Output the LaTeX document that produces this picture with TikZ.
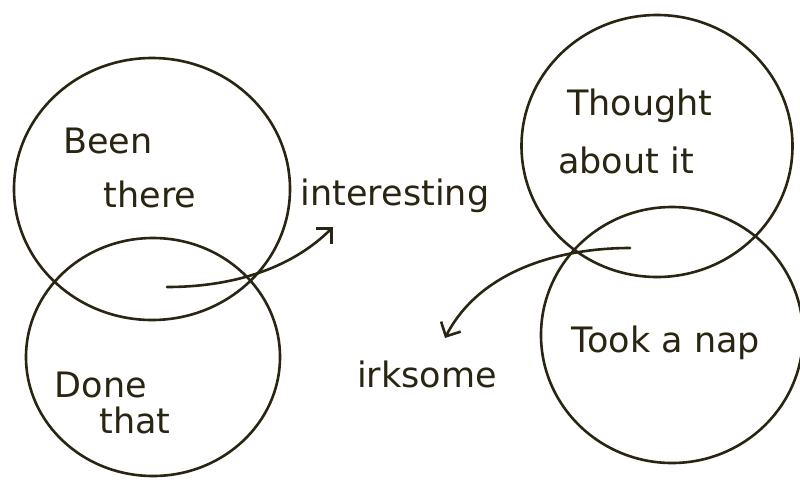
\documentclass[tikz,border=0pt]{standalone}
\usepackage{fontspec}
\setmainfont{DejaVu Sans}
\usetikzlibrary{shapes.geometric,arrows.meta}
\definecolor{ink}{RGB}{42,37,18}
\begin{document}
\begin{tikzpicture}[x=1pt,y=-1pt,
  ring/.style={draw=ink,line width=2.6pt,ellipse,inner sep=0pt},
  lbl/.style={text=ink,anchor=base,inner sep=0pt,font=\fontsize{35}{40}\selectfont},
  conn/.style={draw=ink,line width=2.6pt,line cap=round,-{Straight Barb[length=11pt,width=22pt,line width=2.6pt]}}]
\fill[white] (0,0) rectangle (800,483);
\useasboundingbox (0,0) rectangle (800,483);
% circles
\node[ring,minimum width=276pt,minimum height=262pt] (been) at (152,189) {};
\node[ring,minimum width=254pt,minimum height=238pt] (done) at (153,357) {};
\node[ring,minimum width=271pt,minimum height=262pt] (thought) at (657,146) {};
\node[ring,minimum width=262pt,minimum height=256pt] (nap) at (672,335) {};
% labels
\node[lbl] (t1) at (108,153) {Been};
\node[lbl] (t2) at (150,207) {there};
\node[lbl] (t3) at (101,397) {Done};
\node[lbl] (t4) at (135,433) {that};
\node[lbl] (t5) at (640,115) {Thought};
\node[lbl] (t6) at (626,173) {about it};
\node[lbl] (t7) at (666,352) {Took a nap};
\node[lbl] (int) at (395,205) {interesting};
\node[lbl] (irk) at (427,387) {irksome};
% arrows
\coordinate (a1) at (167,287);
\coordinate (a1e) at (333,227);
\coordinate (a2) at (630,248);
\coordinate (a2e) at (445,338);
\draw[conn] (a1) .. controls (230,287) and (290,270) .. (a1e);
\draw[conn] (a2) .. controls (560,248) and (480,270) .. (a2e);
\end{tikzpicture}
\end{document}
